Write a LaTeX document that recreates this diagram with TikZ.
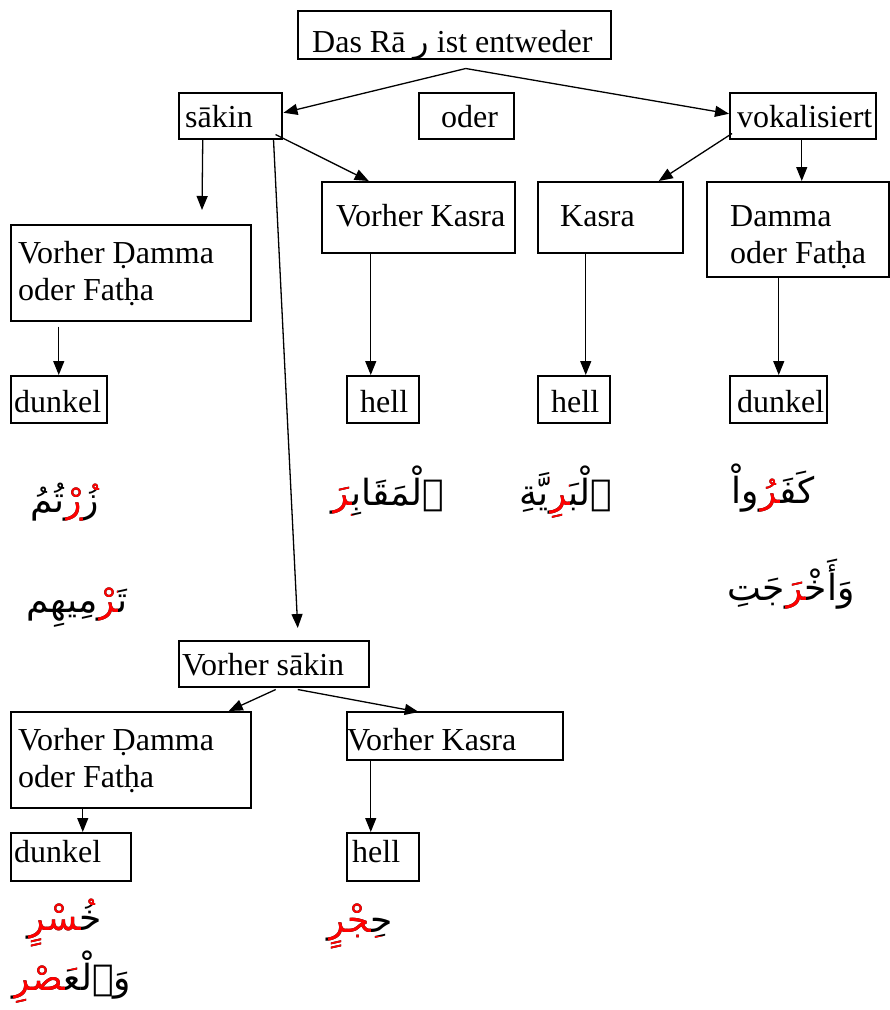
\documentclass[tikz,border=0pt]{standalone}
\usepackage{fontspec}
\setmainfont{Liberation Serif}
\newfontfamily\arf[Script=Arabic]{DejaVu Sans}
\TeXXeTstate=1
\usetikzlibrary{arrows.meta,calc}
\newcommand\arfs{\arf\fontsize{36}{42}\selectfont}
\newcommand\zj{^^^^200d}
\newlength\wAa \newlength\wAb
\newlength\wBa \newlength\wBb
\newlength\wCa \newlength\wCb \newlength\wCc
\newlength\wDa \newlength\wDb
\newlength\wEa \newlength\wEb
\newlength\wFa \newlength\wFb
\newlength\wGa \newlength\wGb
\newlength\wHa \newlength\wHb \newlength\wHc
\newlength\wIa \newlength\wIb
\tikzset{
  box/.style={draw, line width=1.5pt, inner sep=0pt, anchor=north west},
  lbl/.style={font=\fontsize{32}{37}\selectfont, inner sep=0pt, anchor=base west, align=left},
  arw/.style={line width=1.3pt, -{Triangle[length=14pt,width=11pt]}},
  ar/.style={font=\arfs, inner sep=0pt, anchor=base},
  arr/.style={font=\arfs, inner sep=0pt, anchor=base east, text=red},
}
\newcommand\bx[5]{\node[box, minimum width={(#4-#2)*1pt}, minimum height={(#5-#3)*1pt}] (#1) at (#2,#3) {};}
\begin{document}
\settowidth\wAa{\arfs زُ\zj}\settowidth\wAb{\arfs زُرْ\zj}%
\settowidth\wBa{\arfs تَ\zj}\settowidth\wBb{\arfs تَرْ\zj}%
\settowidth\wCa{\arfs ٱلْمَقَا\zj}\settowidth\wCb{\arfs ٱلْمَقَابِ\zj}\settowidth\wCc{\arfs ٱلْمَقَابِرَ}%
\settowidth\wDa{\arfs ٱلْبَ\zj}\settowidth\wDb{\arfs ٱلْبَرِ\zj}%
\settowidth\wEa{\arfs كَفَ\zj}\settowidth\wEb{\arfs كَفَرُ\zj}%
\settowidth\wFa{\arfs وَأَخْ\zj}\settowidth\wFb{\arfs وَأَخْرَ\zj}%
\settowidth\wGa{\arfs خُ\zj}\settowidth\wGb{\arfs خُسْرٍ}%
\settowidth\wHa{\arfs وَٱلْ\zj}\settowidth\wHb{\arfs وَٱلْعَ\zj}\settowidth\wHc{\arfs وَٱلْعَصْرِ}%
\settowidth\wIa{\arfs حِ\zj}\settowidth\wIb{\arfs حِجْرٍ}%
\begin{tikzpicture}[x=1pt,y=-1pt]
\useasboundingbox (0,0) rectangle (890,1010);
% boxes
\bx{top}{297}{10}{610}{58}
\bx{sakin}{178}{92}{281}{138}
\bx{oder}{418}{92}{513}{138}
\bx{vok}{729}{92}{875}{138}
\bx{vk1}{321}{181}{514}{252}
\bx{kas}{537}{181}{682}{252}
\bx{dam}{706}{181}{888}{276}
\bx{dmL}{10}{224}{250}{320}
\bx{dk1}{10}{375}{106}{422}
\bx{h1}{346}{375}{418}{422}
\bx{h2}{537}{375}{609}{422}
\bx{dk2}{729}{375}{826}{422}
\bx{vs}{178}{640}{368}{686}
\bx{dmB}{10}{711}{250}{807}
\bx{vkB}{346}{711}{562}{759}
\bx{dk3}{10}{832}{130}{880}
\bx{h3}{346}{832}{418}{880}
% labels
\node[lbl] (t0) at (312,52) {Das Rā {\arf ر} ist entweder};
\node[lbl] (t1) at (185,127) {sākin};
\node[lbl] (t2) at (441,127) {oder};
\node[lbl] (t3) at (737,127) {vokalisiert};
\node[lbl] (t4) at (336,226) {Vorher Kasra};
\node[lbl] (t5) at (560,226) {Kasra};
\node[lbl] (t6) at (730,263) {Damma\\oder Fatḥa};
\node[lbl] (t7) at (18,300) {Vorher Ḍamma\\oder Fatḥa};
\node[lbl] (t8) at (14,412) {dunkel};
\node[lbl] (t9) at (360,412) {hell};
\node[lbl] (t10) at (551,412) {hell};
\node[lbl] (t11) at (737,412) {dunkel};
\node[lbl] (t12) at (182,675) {Vorher sākin};
\node[lbl] (t13) at (18,787) {Vorher Ḍamma\\oder Fatḥa};
\node[lbl] (t14) at (347,750) {Vorher Kasra};
\node[lbl] (t15) at (14,862) {dunkel};
\node[lbl] (t16) at (352,862) {hell};
% arrows
\coordinate (a3e) at (202,210);
\draw[arw] ([shift={(11.5,9)}]top.south) -- ([shift={(1,-3)}]sakin.east);
\draw[arw] ([shift={(11.5,9)}]top.south) -- ([shift={(0,-2)}]vok.west);
\draw[arw] ([shift={(-27.5,0)}]sakin.south) -- (a3e);
\draw[arw] ([shift={(-7,-5)}]sakin.south east) -- ([shift={(-49.5,0)}]vk1.north);
\draw[arw] ([shift={(-9,0)}]sakin.south east) -- ([shift={(24,-12)}]vs.north);
\draw[arw] ([shift={(3,-6)}]vok.south west) -- ([shift={(48.5,0)}]kas.north);
\draw[arw] ([shift={(-1,0)}]vok.south) -- ([shift={(4,0)}]dam.north);
\draw[arw] ([shift={(-72,5)}]dmL.south) -- (dk1.north);
\draw[arw] ([shift={(-47.5,0)}]vk1.south) -- ([shift={(-12,0)}]h1.north);
\draw[arw] ([shift={(-24.5,0)}]kas.south) -- ([shift={(12,0)}]h2.north);
\draw[arw] ([shift={(-19,0)}]dam.south) -- ([shift={(0.5,0)}]dk2.north);
\draw[arw] ([shift={(2,2)}]vs.south) -- ([shift={(98,0)}]dmB.north);
\draw[arw] ([shift={(24,2)}]vs.south) -- ([shift={(-36,1)}]vkB.north);
\draw[arw] ([shift={(-48,0)}]dmB.south) -- ([shift={(12,0)}]dk3.north);
\draw[arw] ([shift={(-84,0)}]vkB.south) -- ([shift={(-12,0)}]h3.north);
% Arabic words
% 1 zurtumu
\node[ar] (w1) at (65,512) {زُرْتُمُ};
\begin{scope}
\clip ($(w1.base east)+(-\wAa,-30pt)$) rectangle ($(w1.base east)+(-\wAb,60pt)$)
      ($(w1.base east)+(0pt,23pt)$) rectangle ($(w1.base east)+(-\wAa,60pt)$);
\node[arr] (w1r) at (w1.base east) {زُرْتُمُ};
\end{scope}
% 2 tarmihim
\node[ar] (w2) at (77,612) {تَرْمِيهِم};
\begin{scope}
\clip ($(w2.base east)+(-\wBa,-30pt)$) rectangle ($(w2.base east)+(-\wBb,60pt)$)
      ($(w2.base east)+(0pt,25pt)$) rectangle ($(w2.base east)+(-\wBa,60pt)$);
\node[arr] (w2r) at (w2.base east) {تَرْمِيهِم};
\end{scope}
% 3 al-maqabira
\node[ar] (w3) at (388,505) {ٱلْمَقَابِرَ};
\begin{scope}
\clip ($(w3.base east)+(-\wCb,-30pt)$) rectangle ($(w3.base east)+(-\wCc,18pt)$)
      ($(w3.base east)+(-\wCa,-30pt)$) rectangle ($(w3.base east)+(-\wCb,-10pt)$);
\node[arr] (w3r) at (w3.base east) {ٱلْمَقَابِرَ};
\end{scope}
% 4 al-bariyyati
\node[ar] (w4) at (566,505) {ٱلْبَرِيَّةِ};
\begin{scope}
\clip ($(w4.base east)+(-\wDa,-30pt)$) rectangle ($(w4.base east)+(-\wDb,60pt)$);
\node[arr] (w4r) at (w4.base east) {ٱلْبَرِيَّةِ};
\end{scope}
% 5 kafaru
\node[ar] (w5) at (773,503) {كَفَرُواْ};
\begin{scope}
\clip ($(w5.base east)+(-\wEa,-30pt)$) rectangle ($(w5.base east)+(-\wEb,60pt)$);
\node[arr] (w5r) at (w5.base east) {كَفَرُواْ};
\end{scope}
% 6 wa-akhrajati
\node[ar] (w6) at (791,600) {وَأَخْرَجَتِ};
\begin{scope}
\clip ($(w6.base east)+(-\wFa,-30pt)$) rectangle ($(w6.base east)+(-\wFb,60pt)$);
\node[arr] (w6r) at (w6.base east) {وَأَخْرَجَتِ};
\end{scope}
% 7 khusrin
\node[ar] (w7) at (65,930) {خُسْرٍ};
\begin{scope}
\clip ($(w7.base east)+(-\wGa,-30pt)$) rectangle ($(w7.base east)+(-\wGb,60pt)$)
      ($(w7.base east)+(0pt,26pt)$) rectangle ($(w7.base east)+(-\wGa,60pt)$);
\node[arr] (w7r) at (w7.base east) {خُسْرٍ};
\end{scope}
% 8 wal-asri
\node[ar] (w8) at (72,990) {وَٱلْعَصْرِ};
\begin{scope}
\clip ($(w8.base east)+(-\wHb,-30pt)$) rectangle ($(w8.base east)+(-\wHc,60pt)$)
      ($(w8.base east)+(-\wHa,21pt)$) rectangle ($(w8.base east)+(-\wHb,60pt)$);
\node[arr] (w8r) at (w8.base east) {وَٱلْعَصْرِ};
\end{scope}
% 9 hijrin
\node[ar] (w9) at (360,932) {حِجْرٍ};
\begin{scope}
\clip ($(w9.base east)+(-\wIa,-30pt)$) rectangle ($(w9.base east)+(-\wIb,60pt)$)
      ($(w9.base east)+(0pt,-30pt)$) rectangle ($(w9.base east)+(-\wIa,-4pt)$);
\node[arr] (w9r) at (w9.base east) {حِجْرٍ};
\end{scope}
\end{tikzpicture}
\end{document}
